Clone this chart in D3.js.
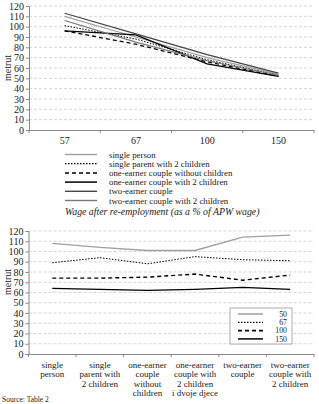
<!DOCTYPE html>
<html>
<head>
<meta charset="utf-8">
<script src="https://cdn.jsdelivr.net/npm/d3@7"></script>
<style>
  body { margin: 0; background: #fff; }
  svg { display: block; font-family: "Liberation Serif", "DejaVu Serif", serif; }
</style>
</head>
<body>
<div id="chart"></div>
<script>
// top chart: net replacement by wage after re-employment
var wageLevels = ["57", "67", "100", "150"];
var families = ["single person", "single parent with 2 children", "one-earner couple without children",
  "one-earner couple with 2 children", "two-earner couple", "two-earner couple with 2 children"];
var singlePerson = [110, 90, 70, 54];
var singleParent = [101, 88, 68, 53];
var oneEarnerNoKids = [96, 83, 66, 52];
var oneEarnerKids = [96, 92, 64, 52];
var twoEarner = [113, 93, 73, 55];
var twoEarnerKids = [106, 85, 67, 53];

// bottom chart: by family type
var familyLabels = [["single", "person"], ["single", "parent with", "2 children"],
  ["one-earner", "couple", "without", "children"], ["one-earner", "couple with", "2 children", "i dvoje djece"],
  ["two-earner", "couple"], ["two-earner", "couple with", "2 children"]];
var seriesNames = ["50", "67", "100", "150"];
var wage50 = [108, 104, 101, 101, 114, 116];
var wage67 = [89, 94, 88, 95, 92, 91];
var wage100 = [74, 74, 75, 78, 72, 77];
var wage150 = [64, 63, 62, 63, 65, 63];
var yTicks = [0, 10, 20, 30, 40, 50, 60, 70, 80, 90, 100, 110, 120];

var width = 319, height = 404;
var svg = d3.select("#chart").append("svg").attr("width", width).attr("height", height);

var topStyles = [
  {c: "#a0a0a0", w: 1.2, d: null},
  {c: "#000", w: 1, d: "1.5,1.5"},
  {c: "#000", w: 1.3, d: "4,3"},
  {c: "#000", w: 1.3, d: null},
  {c: "#444", w: 1.2, d: null},
  {c: "#777", w: 1.2, d: null}
];
var botStyles = [
  {c: "#a0a0a0", w: 1.3, d: null},
  {c: "#000", w: 1, d: "1.5,1.5"},
  {c: "#000", w: 1.4, d: "4,3"},
  {c: "#000", w: 1.3, d: null}
];

function panel(x0, x1, y0, y1, cats) {
  var x = d3.scaleBand().domain(cats).range([x0, x1]);
  var y = d3.scaleLinear().domain([0, 120]).range([y1, y0]);
  var g = svg.append("g");
  g.selectAll("line.grid").data(yTicks.slice(1)).enter().append("line")
    .attr("x1", x0).attr("x2", x1)
    .attr("y1", function(d) { return y(d); }).attr("y2", function(d) { return y(d); })
    .attr("stroke", "#bbb").attr("stroke-width", 0.6).attr("stroke-dasharray", "3,2");
  var ya = g.append("g").attr("transform", "translate(" + x0 + ",0)")
    .call(d3.axisLeft(y).tickValues(yTicks).tickSize(3).tickPadding(2));
  ya.selectAll("text").attr("font-size", 10).attr("fill", "#222").style("font-family", "Liberation Serif");
  ya.selectAll("line,path").attr("stroke", "#888");
  var xa = g.append("g").attr("transform", "translate(0," + y1 + ")")
    .call(d3.axisBottom(x).tickSize(0).tickFormat(""));
  xa.select("path").attr("stroke", "#888");
  var edges = cats.map(function(c) { return x(c); }).concat([x1]);
  g.selectAll("line.tick").data(edges).enter().append("line")
    .attr("x1", function(d) { return d; }).attr("x2", function(d) { return d; })
    .attr("y1", y1).attr("y2", y1 + 3).attr("stroke", "#888");
  return {x: x, y: y, g: g};
}

// ---- top chart
var p1 = panel(29, 314, 6, 130, wageLevels);
var topSeries = [singlePerson, singleParent, oneEarnerNoKids, oneEarnerKids, twoEarner, twoEarnerKids];
var line1 = d3.line()
  .x(function(d, i) { return p1.x(wageLevels[i]) + p1.x.bandwidth() / 2; })
  .y(function(d) { return p1.y(d); });
p1.g.selectAll("path.s").data(topSeries).enter().append("path")
  .attr("fill", "none").attr("d", line1)
  .attr("stroke", function(d, i) { return topStyles[i].c; })
  .attr("stroke-width", function(d, i) { return topStyles[i].w; })
  .attr("stroke-dasharray", function(d, i) { return topStyles[i].d; });
p1.g.selectAll("text.cat").data(wageLevels).enter().append("text")
  .attr("x", function(d) { return p1.x(d) + p1.x.bandwidth() / 2; })
  .attr("y", 143.5).attr("text-anchor", "middle").attr("font-size", 10).attr("fill", "#222")
  .text(function(d) { return d; });
svg.append("text").attr("transform", "translate(11,68) rotate(-90)")
  .attr("text-anchor", "middle").attr("font-size", 10).attr("fill", "#222").text("metrut");

var leg1 = svg.append("g");
families.forEach(function(f, i) {
  var yy = 154.5 + i * 9.2;
  leg1.append("line").attr("x1", 65).attr("x2", 97).attr("y1", yy).attr("y2", yy)
    .attr("stroke", topStyles[i].c).attr("stroke-width", topStyles[i].w + 0.2)
    .attr("stroke-dasharray", topStyles[i].d);
  leg1.append("text").attr("x", 109).attr("y", yy + 3).attr("font-size", 8.8).attr("fill", "#222").text(f);
});
svg.append("text").attr("x", 65).attr("y", 215).attr("font-size", 9.8).attr("font-style", "italic")
  .attr("fill", "#222").text("Wage after re-employment (as a % of APW wage)");

// ---- bottom chart
var catKeys = familyLabels.map(function(d, i) { return "c" + i; });
var p2 = panel(28.5, 314, 231, 354, catKeys);
var botSeries = [wage50, wage67, wage100, wage150];
var line2 = d3.line()
  .x(function(d, i) { return p2.x(catKeys[i]) + p2.x.bandwidth() / 2; })
  .y(function(d) { return p2.y(d); });
p2.g.selectAll("path.s").data(botSeries).enter().append("path")
  .attr("fill", "none").attr("d", line2)
  .attr("stroke", function(d, i) { return botStyles[i].c; })
  .attr("stroke-width", function(d, i) { return botStyles[i].w; })
  .attr("stroke-dasharray", function(d, i) { return botStyles[i].d; });
familyLabels.forEach(function(lines, i) {
  var t = p2.g.append("text").attr("text-anchor", "middle").attr("font-size", 9).attr("fill", "#222");
  lines.forEach(function(l, j) {
    t.append("tspan").attr("x", p2.x(catKeys[i]) + p2.x.bandwidth() / 2).attr("y", 368 + j * 9.4).text(l);
  });
});
svg.append("text").attr("transform", "translate(11,282) rotate(-90)")
  .attr("text-anchor", "middle").attr("font-size", 10).attr("fill", "#222").text("metrut");

var leg2 = svg.append("g");
leg2.append("rect").attr("x", 230).attr("y", 308).attr("width", 62).attr("height", 36)
  .attr("fill", "#fff").attr("stroke", "#888").attr("stroke-width", 0.7);
seriesNames.forEach(function(s, i) {
  var yy = 314 + i * 8.3;
  leg2.append("line").attr("x1", 238).attr("x2", 263).attr("y1", yy).attr("y2", yy)
    .attr("stroke", botStyles[i].c).attr("stroke-width", botStyles[i].w + 0.2)
    .attr("stroke-dasharray", botStyles[i].d);
  leg2.append("text").attr("x", 287).attr("y", yy + 2.7).attr("text-anchor", "end")
    .attr("font-size", 7.8).attr("fill", "#222").text(s);
});
svg.append("text").attr("x", 2).attr("y", 402).attr("font-size", 7.5).attr("fill", "#222").text("Source: Table 2");
</script>
</body>
</html>
